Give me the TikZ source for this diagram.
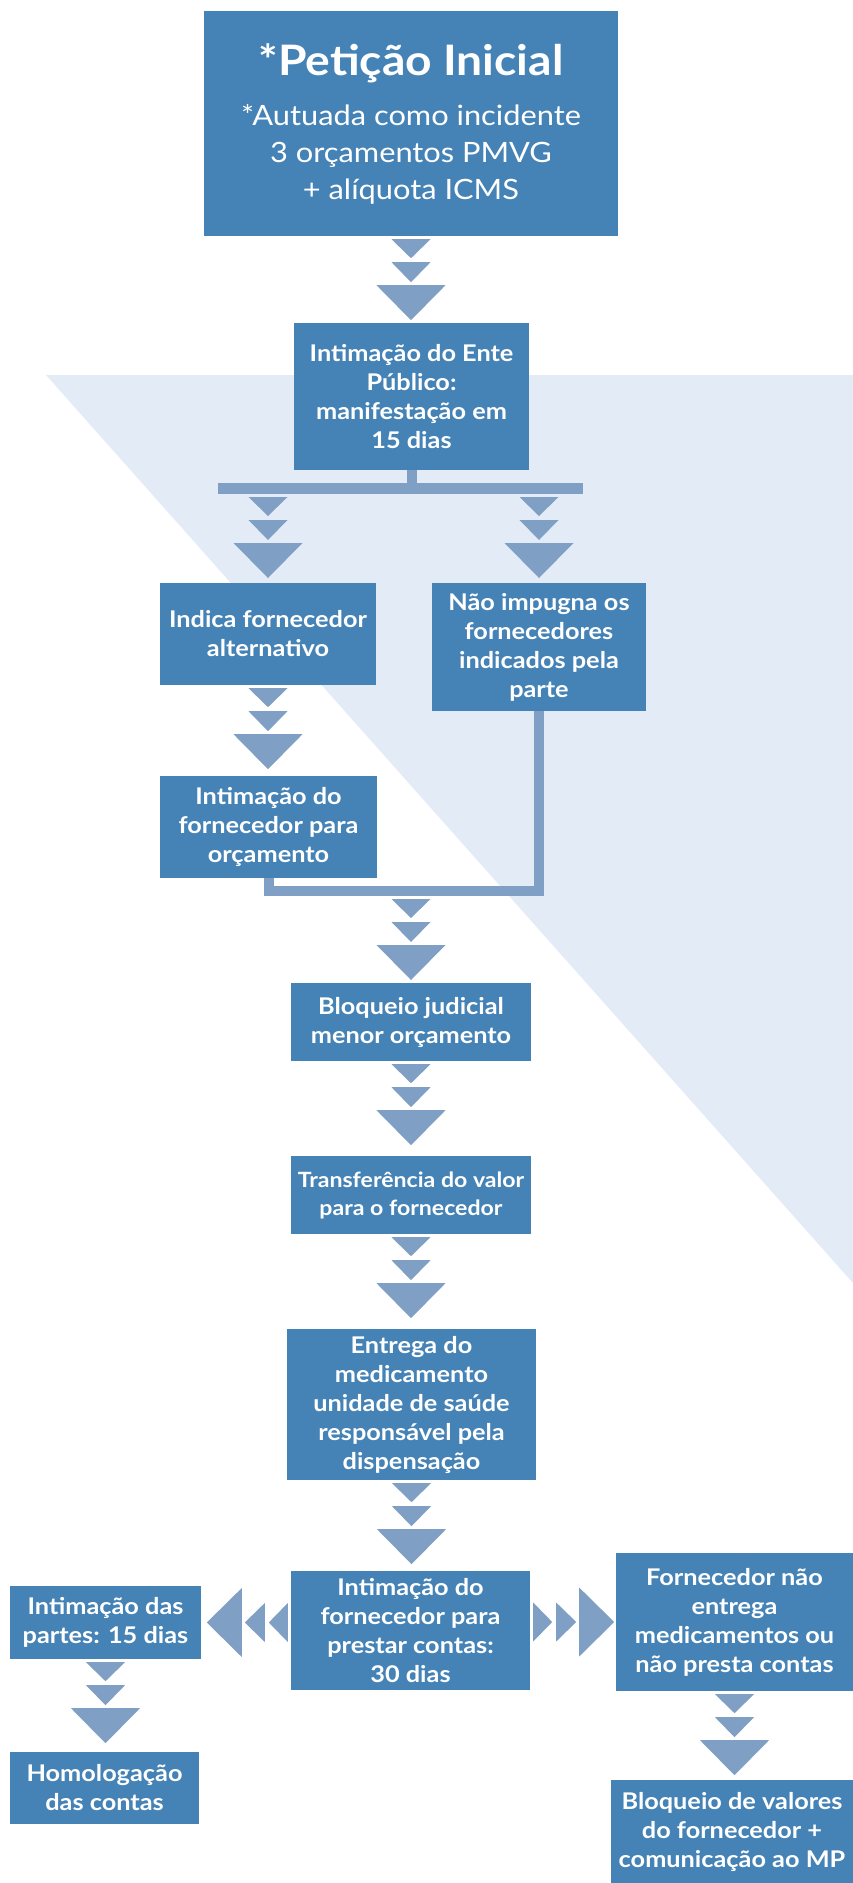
\documentclass[tikz,border=0pt]{standalone}
\usepackage{fontspec}
\setmainfont{Lato}[FakeStretch=1.1]
\usepackage{xcolor}
\usepackage{tikz}
\definecolor{azul}{RGB}{69,131,182}
\definecolor{seta}{RGB}{127,159,196}
\definecolor{fundo}{RGB}{227,235,247}

\begin{document}
\begin{tikzpicture}
    [x=1pt, y=-1pt,
    caixa/.style = {fill=azul, text=white, align=center, inner sep=0pt,
                    font=\fontsize{23}{29}\selectfont\bfseries},
    setas/.pic = {
        \fill[seta] (-19.5,3) -- (19.5,3) -- (0,22) -- cycle;
        \fill[seta] (-19.5,26) -- (19.5,26) -- (0,46) -- cycle;
        \fill[seta] (-34.5,49) -- (34.5,49) -- (0,84) -- cycle;
    }]
    \useasboundingbox (0,0) rectangle (853,1883);
    % Fundo
    \fill[fundo] (46,375) -- (853,375) -- (853,1283) -- cycle;
    % Peticao inicial
    \node[caixa, minimum width=414, minimum height=225,
          font=\fontsize{28}{37}\selectfont] (peticao) at (411,123.5)
        {{\fontsize{42}{52}\selectfont\bfseries *Petição Inicial}\\[13pt]
         *Autuada como incidente\\ 3 orçamentos PMVG\\ + alíquota ICMS};
    % Ente publico
    \node[caixa, minimum width=235, minimum height=147] (ente) at (411.5,396.5)
        {Intimação do Ente\\ Público:\\ manifestação em\\ 15 dias};
    % Ramos
    \node[caixa, minimum width=216, minimum height=102] (indica) at (268,634)
        {Indica fornecedor\\ alternativo};
    \node[caixa, minimum width=214, minimum height=128] (naoimp) at (539,647)
        {Não impugna os\\ fornecedores\\ indicados pela\\ parte};
    \node[caixa, minimum width=217, minimum height=102] (orcam) at (268.5,827)
        {Intimação do\\ fornecedor para\\ orçamento};
    % Bloqueio e transferencia
    \node[caixa, minimum width=240, minimum height=78] (bloqueio) at (411,1022)
        {Bloqueio judicial\\ menor orçamento};
    \node[caixa, minimum width=240, minimum height=78,
          font=\fontsize{21}{28}\selectfont\bfseries] (transf) at (411,1195)
        {Transferência do valor\\ para o fornecedor};
    \node[caixa, minimum width=249, minimum height=151] (entrega) at (411.5,1404.5)
        {Entrega do\\ medicamento\\ unidade de saúde\\ responsável pela\\ dispensação};
    % Prestacao de contas
    \node[caixa, minimum width=239, minimum height=119] (contas) at (410.5,1630.5)
        {Intimação do\\ fornecedor para\\ prestar contas:\\ 30 dias};
    \node[caixa, minimum width=191, minimum height=73] (partes) at (105.5,1622.5)
        {Intimação das\\ partes: 15 dias};
    \node[caixa, minimum width=189, minimum height=72] (homolog) at (104.5,1788)
        {Homologação\\ das contas};
    \node[caixa, minimum width=237, minimum height=138] (naoentrega) at (734.5,1622)
        {Fornecedor não\\ entrega\\ medicamentos ou\\ não presta contas};
    \node[caixa, minimum width=242, minimum height=103] (valores) at (732,1831.5)
        {Bloqueio de valores\\ do fornecedor +\\ comunicação ao MP};
    % Ligacoes
    \coordinate (barraE) at (218,488.5);
    \coordinate (barraD) at (583,488.5);
    \draw[seta, line width=10] (ente.south) -- (ente.south |- barraE);
    \draw[seta, line width=11] (barraE) -- (barraD);
    \draw[seta, line width=10] (orcam.south) -- ++(0,12.5) -| (naoimp.south);
    % Setas
    \pic at (peticao.south) {setas};
    \pic at (indica.north |- 0,494) {setas};
    \pic at (naoimp.north |- 0,494) {setas};
    \pic at (indica.south) {setas};
    \pic at (bloqueio.north |- 0,896) {setas};
    \pic at (bloqueio.south) {setas};
    \pic at (transf.south) {setas};
    \pic at (entrega.south) {setas};
    \pic[rotate=-90] at (contas.west |- partes.east) {setas};
    \pic[rotate=90] at (contas.east |- naoentrega.west) {setas};
    \pic at (partes.south) {setas};
    \pic at (naoentrega.south) {setas};
\end{tikzpicture}
\end{document}
